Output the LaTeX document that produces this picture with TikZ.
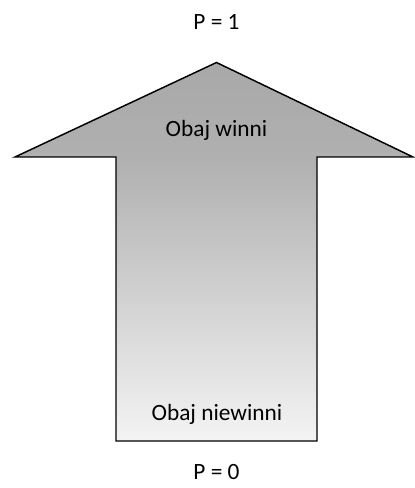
\documentclass[tikz,border=0pt]{standalone}
\usepackage{fontspec}
\setmainfont{Carlito}
\usepackage{tikz}
\usetikzlibrary{positioning, calc}

\pgfdeclareverticalshading{arrowfade}{100bp}{color(0bp)=(gray!9); color(25bp)=(gray!9); color(62.5bp)=(gray!62); color(75bp)=(gray!68); color(100bp)=(gray!68)}

\begin{document}
\begin{tikzpicture}[
        x=0.75pt, y=-0.75pt,
        arrowbody/.style={draw=black, line width=1.1pt, line join=miter, shading=arrowfade},
        label/.style={font=\fontsize{17.5}{20}\selectfont, inner sep=0pt, anchor=center},
        problabel/.style={font=\fontsize{17.5}{20}\selectfont, inner sep=0pt, anchor=center}
    ]

    \useasboundingbox (0,0) rectangle (414,488);

    % ============ ARROW ============
    \coordinate (tip) at (216.5, 62.5);
    \coordinate (headleft) at (15, 157);
    \coordinate (headright) at (413, 157);
    \coordinate (shaftleft) at (116, 157);
    \coordinate (shaftright) at (317, 157);
    \coordinate (baseleft) at (116, 441);
    \coordinate (baseright) at (317, 441);

    \path[arrowbody] (tip) -- (headright) -- (shaftright) -- (baseright)
        -- (baseleft) -- (shaftleft) -- (headleft) -- cycle;

    % ============ LABELS ============
    \node[label] (guilty) at (216.5, 130) {Obaj winni};
    \node[label] (innocent) at (217, 414) {Obaj niewinni};

    \node[problabel] (ptop) at (216.5, 22) {P = 1};
    \node[problabel] (pbottom) at (216.5, 472) {P = 0};

\end{tikzpicture}
\end{document}
